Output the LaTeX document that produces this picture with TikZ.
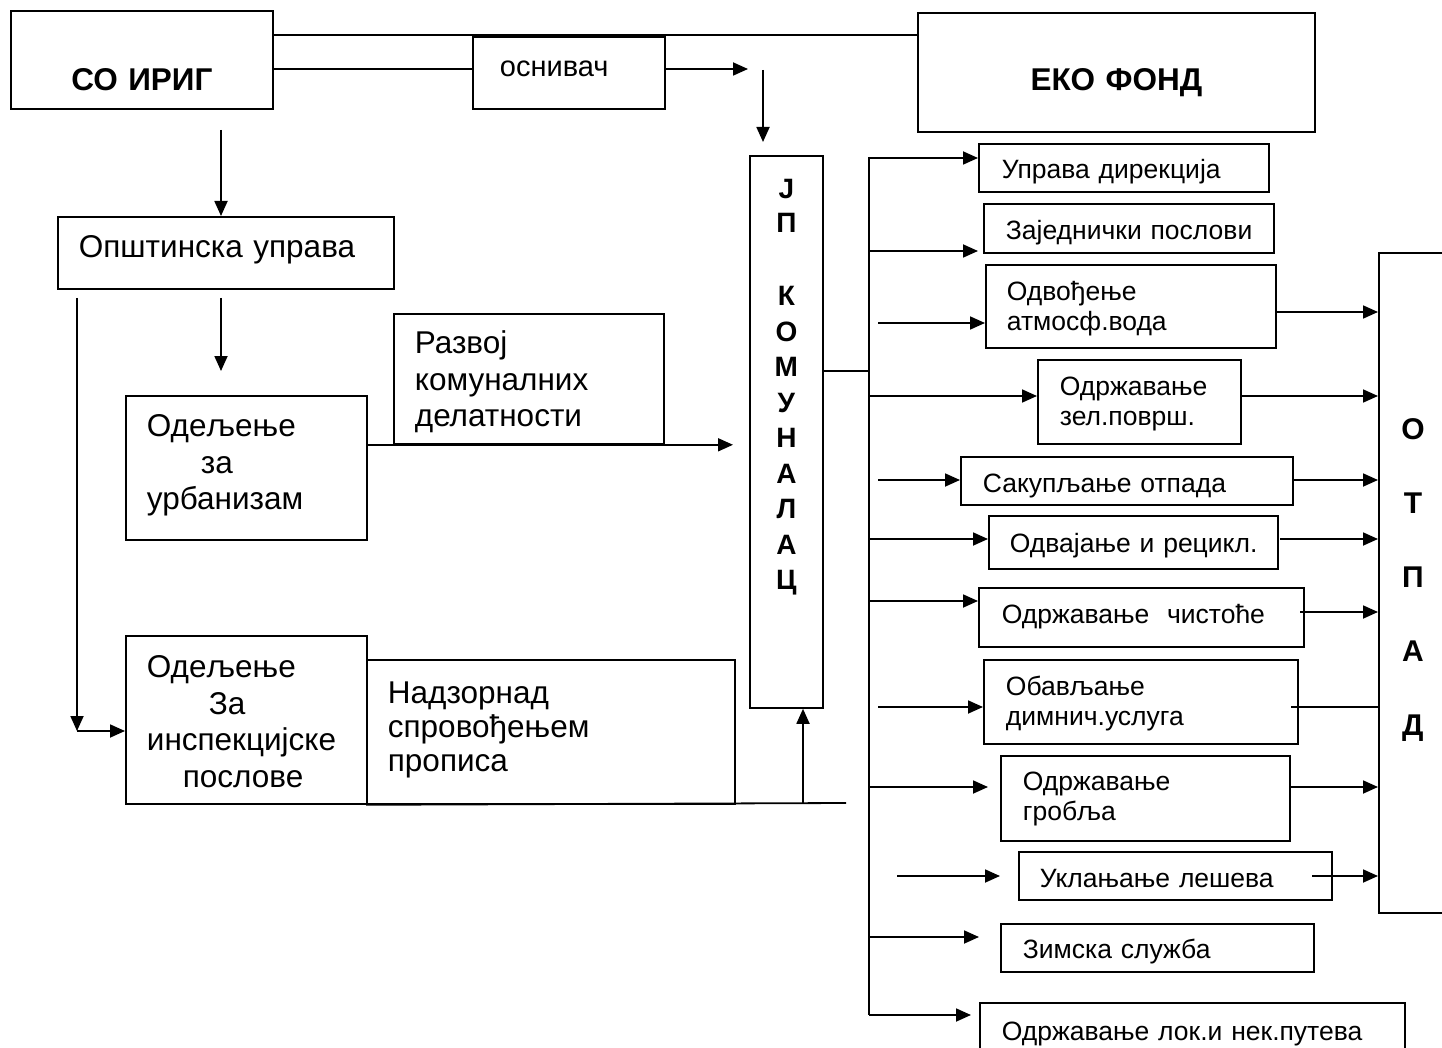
\documentclass[tikz,border=0pt]{standalone}
\usepackage{fontspec}
\setmainfont{Liberation Sans}
\usepackage{tikz}
\usetikzlibrary{positioning,calc,arrows.meta}

\begin{document}
\begin{tikzpicture}[x=1pt,y=-1pt,line width=1.8pt,
  bx/.style={draw,anchor=north west,inner ysep=0pt,align=left},
  cbx/.style={draw,anchor=north west,inner sep=0pt,align=center},
  lf/.style={font=\fontsize{31.5}{36.5}\selectfont},
  rf/.style={font=\fontsize{26.5}{30}\selectfont},
  bf/.style={font=\fontsize{31.5}{36}\selectfont\bfseries},
  arr/.style={-{Triangle[length=15pt,width=13pt]}}]
\useasboundingbox (0,0) rectangle (1442,1048);

% left column
\node[cbx,bf,text width=262pt,text height=80pt,text depth=18pt] (soirig) at (10,10) {СО ИРИГ};
\node[bx,font=\fontsize{29}{34}\selectfont,inner xsep=27pt,text width=138pt,text height=40pt,text depth=32pt] (osnivac) at (472,36) {оснивач};
\node[cbx,bf,text width=397pt,text height=78pt,text depth=41pt] (ekofond) at (917,12) {ЕКО ФОНД};
\node[bx,lf,inner xsep=21pt,text width=294pt,text height=41pt,text depth=31pt] (opst) at (57,216) {\mbox{Општинска управа}};
\node[bx,lf,inner xsep=21pt,text width=199pt,text height=41pt,text depth=103pt] (urban) at (125,395) {Одељење\\\hspace*{54pt}за\\урбанизам};
\node[bx,lf,inner xsep=21pt,text width=228pt,text height=40pt,text depth=90pt] (razvoj) at (393,313) {Развој\\комуналних\\делатности};
\node[bx,lf,inner xsep=21pt,text width=199pt,text height=42pt,text depth=126pt] (insp) at (125,635) {Одељење\\\hspace*{62pt}За\\инспекцијске\\\hspace*{36pt}послове};
\node[bx,font=\fontsize{31.5}{34}\selectfont,inner xsep=21pt,text width=326pt,text height=44pt,text depth=100pt] (nadzor) at (366,659) {Надзорнад\\спровођењем\\прописа};

% JP and OTPAD
\node[cbx,font=\fontsize{28}{35.5}\selectfont\bfseries,text width=73pt,text height=43pt,text depth=509pt] (jp) at (749,155)
  {Ј\\[-2pt]П\\[38pt]К\\О\\М\\У\\Н\\А\\Л\\А\\Ц};
\node[cbx,font=\fontsize{30}{37}\selectfont\bfseries,text width=68pt,text height=187pt,text depth=473pt] (otpad) at (1378,252)
  {О\\[37pt]Т\\[37pt]П\\[37pt]А\\[37pt]Д};

% right column
\node[bx,rf,inner xsep=23pt,text width=244pt,text height=35pt,text depth=13pt] (uprava) at (978,143) {\mbox{Управа дирекција}};
\node[bx,rf,inner xsep=22pt,text width=246pt,text height=36pt,text depth=13pt] (zajed) at (983,203) {\mbox{Заједнички послови}};
\node[bx,rf,inner xsep=21pt,text width=248pt,text height=36pt,text depth=47pt] (odvodj) at (985,264) {Одвођење\\атмосф.вода};
\node[bx,rf,inner xsep=22pt,text width=159pt,text height=36pt,text depth=48pt] (zelpov) at (1037,359) {Одржавање\\зел.површ.};
\node[bx,rf,inner xsep=22pt,text width=288pt,text height=36pt,text depth=12pt] (sakup) at (960,456) {\mbox{Сакупљање отпада}};
\node[bx,rf,inner xsep=21pt,text width=247pt,text height=37pt,text depth=16pt] (odvaj) at (988,515) {\mbox{Одвајање и рецикл.}};
\node[bx,rf,inner xsep=23pt,text width=279pt,text height=36pt,text depth=23pt] (cistoc) at (978,587) {\mbox{Одржавање\ \ чистоће}};
\node[bx,rf,inner xsep=22pt,text width=270pt,text height=36pt,text depth=48pt] (dimnic) at (983,659) {Обављање\\димнич.услуга};
\node[bx,rf,inner xsep=22pt,text width=245pt,text height=35pt,text depth=50pt] (groblja) at (1000,755) {Одржавање\\гробља};
\node[bx,rf,inner xsep=21pt,text width=271pt,text height=36pt,text depth=12pt] (uklanj) at (1018,851) {\mbox{Уклањање лешева}};
\node[bx,rf,inner xsep=22pt,text width=269pt,text height=35pt,text depth=13pt] (zimska) at (1000,923) {\mbox{Зимска служба}};
\node[bx,rf,inner xsep=22pt,text width=381pt,text height=38pt,text depth=20pt] (lokput) at (979,1002) {\mbox{Одржавање лок.и нек.путева}};

% free ends
\coordinate (f1) at (748,69);
\coordinate (f2) at (763,70);
\coordinate (f3) at (221,130);
\coordinate (f4) at (221,298);
\coordinate (f5) at (77,298);
\coordinate (f6) at (77,731);
\coordinate (f7) at (846,803);
\coordinate (f8) at (803,803);
\coordinate (t0) at (869,371);
\coordinate (ttop) at (869,157);
\coordinate (tbot) at (869,1015);

\draw (soirig.east |- 0,35) -- (ekofond.west |- 0,35);
\draw (soirig.east |- f1) -- (osnivac.west |- f1);
\draw[arr] (osnivac.east |- f1) -- (f1);
\draw[arr] (f2) -- ([yshift=13pt]jp.north -| f2);
\draw[arr] (f3) -- (opst.north -| f3);
\draw[arr] (f4) -- ++(0,73);
\draw[arr] (f5) -- (f6);
\draw[arr] (f6) -- (insp.west |- f6);
\draw[arr] (urban.east |- razvoj.south) -- ([xshift=-16pt]jp.west |- razvoj.south);
\draw (nadzor.south west) -- (f7);
\draw[arr] (f8) -- (jp.south -| f8);
\draw (jp.east |- t0) -- (t0);
\draw (ttop) -- (tbot);

\foreach \b/\y/\s/\g in {uprava/158/869/0, zajed/251/869/5, odvodj/323/878/0, zelpov/396/869/0,
  sakup/480/878/0, odvaj/539/869/0, cistoc/601/869/0, dimnic/707/878/0, groblja/787/869/12,
  uklanj/876/897/18, zimska/937/869/21, lokput/1015/869/8}
  \draw[arr,shorten >=\g pt] (\s,\y) -- (\b.west |- \s,\y);

\foreach \y/\s in {312/1275, 396/1240, 480/1292, 539/1280, 612/1300, 787/1289, 876/1312}
  \draw[arr] (\s,\y) -- (otpad.west |- \s,\y);
\draw (1291,707) -- (otpad.west |- 1291,707);
\end{tikzpicture}
\end{document}
